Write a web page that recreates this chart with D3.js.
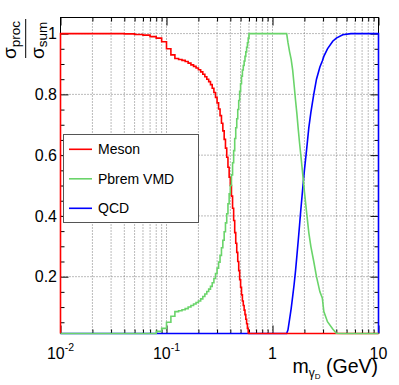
<!DOCTYPE html>
<html>
<head>
<meta charset="utf-8">
<script src="https://cdn.jsdelivr.net/npm/d3@7"></script>
<style>
  body { margin: 0; background: #fff; }
  svg { display: block; font-family: "Liberation Sans", Arial, Helvetica, sans-serif; }
  .grid line { stroke: #777; stroke-width: 1; stroke-dasharray: 1,2; }
  .tick line { stroke: #000; }
</style>
</head>
<body>
<svg width="399" height="385"></svg>
<script>
// histogram bins of 0.01 GeV, lower edges 0.01 .. 0.59
const binStart = 0.01
const binWidth = 0.01
const mesonBins = [
  1, 1, 1, 0.999, 0.997, 0.995, 0.99, 0.985, 0.973,
  0.95, 0.93, 0.918, 0.915, 0.912, 0.908, 0.903, 0.897, 0.892, 0.887,
  0.881, 0.874, 0.866, 0.858, 0.85, 0.842, 0.832, 0.82, 0.806, 0.79,
  0.772, 0.752, 0.73, 0.705, 0.68, 0.652, 0.623, 0.593, 0.56, 0.527,
  0.5, 0.465, 0.425, 0.385, 0.345, 0.31, 0.28, 0.25, 0.22, 0.19,
  0.165, 0.14, 0.12, 0.105, 0.09, 0.075, 0.06, 0.045, 0.03, 0.015
]
const pbremBins = [
  0, 0, 0, 0.001, 0.003, 0.005, 0.01, 0.02, 0.03,
  0.05, 0.07, 0.085, 0.088, 0.091, 0.095, 0.1, 0.105, 0.11, 0.115,
  0.12, 0.127, 0.135, 0.143, 0.151, 0.159, 0.168, 0.18, 0.194, 0.21,
  0.228, 0.248, 0.27, 0.295, 0.32, 0.348, 0.377, 0.407, 0.44, 0.473,
  0.5, 0.535, 0.575, 0.615, 0.655, 0.69, 0.72, 0.75, 0.78, 0.81,
  0.835, 0.86, 0.88, 0.895, 0.91, 0.925, 0.94, 0.955, 0.97, 0.985
]
const qcdBins = []

// above 0.6 GeV the bins are narrower than a pixel: read as points
const tailMass = [0.6, 1.36, 1.4, 1.45, 1.5, 1.55, 1.6, 1.65, 1.7, 1.75, 1.8, 1.85, 1.9, 1.95, 2.0,
  2.1, 2.2, 2.3, 2.45, 2.6, 2.8, 2.95, 3.05, 3.3, 3.7, 4.0, 4.6, 5.5, 7.0, 10]
const qcdTail = [0, 0, 0.025, 0.06, 0.095, 0.135, 0.175, 0.22, 0.27, 0.32, 0.37, 0.42, 0.465, 0.51, 0.55,
  0.62, 0.69, 0.74, 0.8, 0.85, 0.89, 0.91, 0.925, 0.95, 0.975, 0.985, 0.996, 1, 1, 1]
const pbremTail = [1, 1, 0.97, 0.94, 0.915, 0.88, 0.83, 0.78, 0.735, 0.685, 0.64, 0.6, 0.56, 0.52, 0.48,
  0.41, 0.345, 0.3, 0.25, 0.2, 0.15, 0.13, 0.085, 0.052, 0.028, 0.014, 0, 0, 0, 0]
const mesonTailMass = [0.6, 10]
const mesonTail = [0, 0]

const seriesNames = ['Meson', 'Pbrem VMD', 'QCD']
const seriesColors = ['#ff0000', '#6ad46a', '#0000ff']

const xMajor = [0.01, 0.1, 1, 10]
const xMajorLabels = [['10', '-2'], ['10', '-1'], ['1', ''], ['10', '']]
const yMajor = [0.2, 0.4, 0.6, 0.8, 1]
const yMajorLabels = ['0.2', '0.4', '0.6', '0.8', '1']
const yMinor = [0.05, 0.1, 0.15, 0.25, 0.3, 0.35, 0.45, 0.5, 0.55, 0.65, 0.7, 0.75, 0.85, 0.9, 0.95]

const svg = d3.select('svg')
const frameL = 60.5, frameR = 378.5, frameT = 17.5, frameB = 333.5

const x = d3.scaleLog().domain([0.01, 10]).range([frameL, frameR])
const y = d3.scaleLinear().domain([0.013, 1.053]).range([frameB, frameT]).clamp(true)

const xMinor = []
;[0.01, 0.1, 1].forEach(d => { for (let k = 2; k <= 9; k++) xMinor.push(+(k * d).toPrecision(3)) })

// grid
const grid = svg.append('g').attr('class', 'grid')
grid.selectAll('.gx')
  .data(xMinor.concat([0.1, 1]))
  .enter().append('line')
  .attr('x1', d => x(d)).attr('x2', d => x(d))
  .attr('y1', frameT).attr('y2', frameB)
grid.selectAll('.gy')
  .data(yMajor)
  .enter().append('line')
  .attr('x1', frameL).attr('x2', frameR)
  .attr('y1', d => y(d)).attr('y2', d => y(d))

// axes ticks (inward, ROOT style)
function ticks (axis, tr, vals, len) {
  svg.append('g')
    .attr('transform', tr)
    .call(axis.tickValues(vals).tickSize(-len).tickFormat(''))
    .call(g => g.select('.domain').remove())
}
ticks(d3.axisBottom(x), `translate(0,${frameB})`, xMajor, 8)
ticks(d3.axisBottom(x), `translate(0,${frameB})`, xMinor, 4)
ticks(d3.axisTop(x), `translate(0,${frameT})`, xMajor, 8)
ticks(d3.axisTop(x), `translate(0,${frameT})`, xMinor, 4)
ticks(d3.axisLeft(y), `translate(${frameL},0)`, yMajor, 8)
ticks(d3.axisLeft(y), `translate(${frameL},0)`, yMinor, 4)
ticks(d3.axisRight(y), `translate(${frameR},0)`, yMajor, 8)
ticks(d3.axisRight(y), `translate(${frameR},0)`, yMinor, 4)

svg.append('rect')
  .attr('x', frameL).attr('y', frameT)
  .attr('width', frameR - frameL).attr('height', frameB - frameT)
  .attr('fill', 'none').attr('stroke', '#000').attr('stroke-width', 1)

function histPoints (bins, tm, tv) {
  const pts = [[0.01, 0]]
  bins.forEach((v, i) => {
    const lo = +(binStart + i * binWidth).toFixed(2)
    pts.push([lo, v], [+(lo + binWidth).toFixed(2), v])
  })
  if (!bins.length) pts.push([tm[0], 0])
  tv.forEach((v, i) => pts.push([tm[i], v]))
  pts.push([10, 0])
  return pts
}

const series = [
  histPoints(mesonBins, mesonTailMass, mesonTail),
  histPoints(pbremBins, tailMass, pbremTail),
  histPoints(qcdBins, tailMass, qcdTail)
]

const line = d3.line().x(d => x(d[0])).y(d => y(d[1]))

// draw order: QCD, Meson, Pbrem (on top of the frame, like ROOT)
;[2, 0, 1].forEach(i => {
  svg.append('path')
    .attr('d', line(series[i]))
    .attr('fill', 'none')
    .attr('stroke', seriesColors[i])
    .attr('stroke-width', 1.6)
    .attr('stroke-linejoin', 'miter')
})

// tick labels
const xl = svg.selectAll('.xl')
  .data(xMajor)
  .enter().append('text')
  .attr('x', d => x(d))
  .attr('y', 359)
  .attr('text-anchor', 'middle')
  .attr('font-size', 16)
xl.append('tspan').text((d, i) => xMajorLabels[i][0])
xl.append('tspan')
  .attr('font-size', 10.5)
  .attr('dy', -8)
  .text((d, i) => xMajorLabels[i][1])

svg.selectAll('.yl')
  .data(yMajor)
  .enter().append('text')
  .attr('x', 57)
  .attr('y', d => y(d))
  .attr('dy', '0.36em')
  .attr('text-anchor', 'end')
  .attr('font-size', 16)
  .text((d, i) => yMajorLabels[i])

// x title
const xt = svg.append('text')
  .attr('x', 378).attr('y', 373)
  .attr('text-anchor', 'end')
  .attr('font-size', 19.5)
xt.append('tspan').text('m')
xt.append('tspan').attr('font-size', 12).attr('dy', 4).text('γ')
xt.append('tspan').attr('font-size', 8).attr('dy', 2).text('D')
xt.append('tspan').attr('dy', -6).text(' (GeV)')

// y title (fraction)
const yt = svg.append('g').attr('transform', 'rotate(-90)')
const num = yt.append('text').attr('x', -59).attr('y', 16).attr('font-size', 19)
num.append('tspan').text('σ')
num.append('tspan').attr('font-size', 13.5).attr('dy', 3.5).text('proc')
const den = yt.append('text').attr('x', -59).attr('y', 43.5).attr('font-size', 19)
den.append('tspan').text('σ')
den.append('tspan').attr('font-size', 13.5).attr('dy', 3.5).text('sum')
yt.append('line')
  .attr('x1', -58).attr('x2', -19)
  .attr('y1', 25.7).attr('y2', 25.7)
  .attr('stroke', '#000').attr('stroke-width', 1)

// legend
const legend = svg.append('g')
legend.append('rect')
  .attr('x', 63.5).attr('y', 134.5)
  .attr('width', 135).attr('height', 88)
  .attr('fill', '#fff').attr('stroke', '#555')
const entry = legend.selectAll('.entry')
  .data(seriesNames)
  .enter().append('g')
  .attr('transform', (d, i) => `translate(0,${149.3 + i * 29.5})`)
entry.append('line')
  .attr('x1', 69).attr('x2', 92)
  .attr('stroke', (d, i) => seriesColors[i])
  .attr('stroke-width', 1.6)
entry.append('text')
  .attr('x', 98).attr('dy', '0.36em')
  .attr('font-size', 14)
  .text(d => d)
</script>
</body>
</html>
